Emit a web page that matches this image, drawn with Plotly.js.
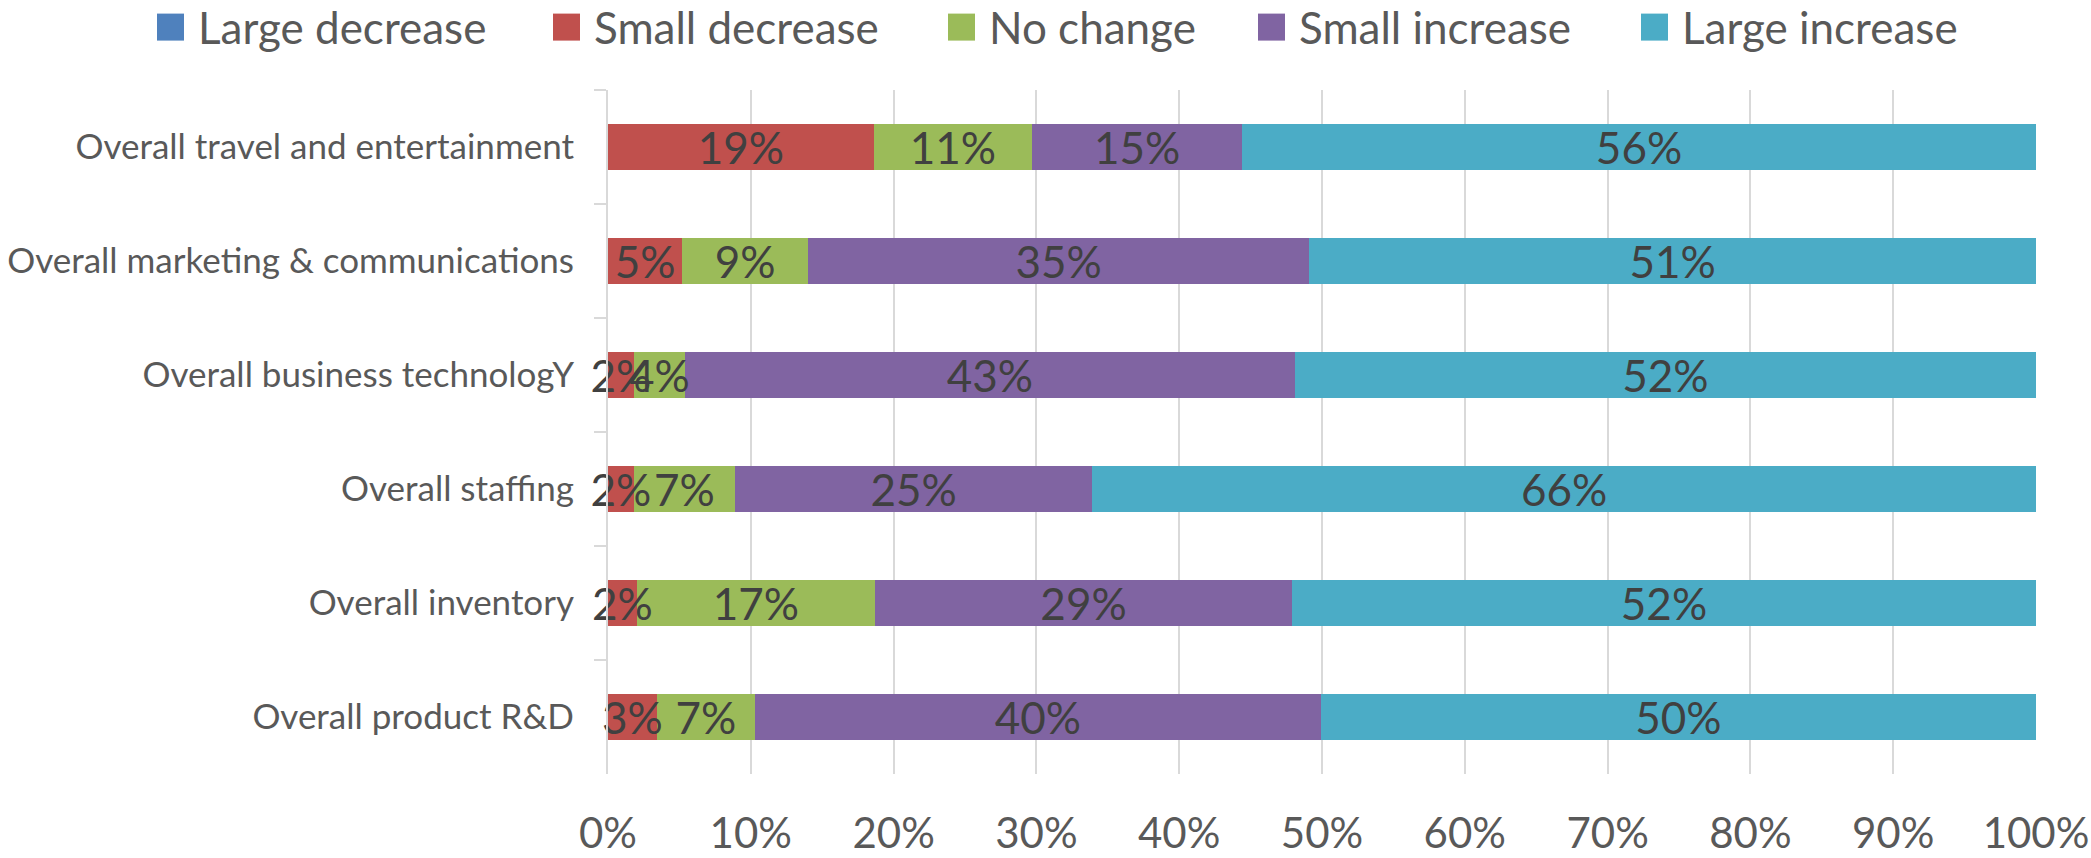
<!DOCTYPE html>
<html>
<head>
<meta charset="utf-8">
<script src="https://cdn.plot.ly/plotly-3.0.1.min.js"></script>
<style>
  html, body { margin: 0; padding: 0; background: #ffffff; }
  #chart { width: 2091px; height: 858px; }
</style>
</head>
<body>
<div id="chart"></div>
<script>
// ---- data (shares of respondents, as fractions) ----
const categories = [
  'Overall travel and entertainment',
  'Overall marketing & communications',
  'Overall business technologY',
  'Overall staffing',
  'Overall inventory',
  'Overall product R&D'
];
const seriesNames = ['Large decrease', 'Small decrease', 'No change', 'Small increase', 'Large increase'];
const largeDecrease = [0, 0, 0, 0, 0, 0];
const smallDecrease = [0.186, 0.052, 0.018, 0.018, 0.020, 0.034];
const noChange      = [0.111, 0.088, 0.036, 0.071, 0.167, 0.069];
const smallIncrease = [0.147, 0.351, 0.427, 0.250, 0.292, 0.396];
const largeIncrease = [0.556, 0.509, 0.519, 0.661, 0.521, 0.501];
const xTickValues = [0, 0.1, 0.2, 0.3, 0.4, 0.5, 0.6, 0.7, 0.8, 0.9, 1.0];

// ---- styles ----
const colors = ['#4F81BD', '#C0504D', '#9BBB59', '#8064A2', '#4BACC6'];
const FONT = 'Lato, "Open Sans", sans-serif';
const W = 2091, H = 858;
const M = { l: 608, r: 55, t: 90, b: 84 };
const plotW = W - M.l - M.r, plotH = H - M.t - M.b;
const px2paperX = px => (px - M.l) / plotW;
const px2paperY = py => (H - M.b - py) / plotH;

const allSeries = [largeDecrease, smallDecrease, noChange, smallIncrease, largeIncrease];
const legendNames = ['legend', 'legend2', 'legend3', 'legend4', 'legend5'];
const legendSquareCenters = [175.5, 571.5, 966.5, 1276.5, 1659.5];

const traces = allSeries.map((vals, i) => ({
  type: 'bar',
  orientation: 'h',
  name: seriesNames[i],
  y: categories,
  x: vals,
  marker: { color: colors[i], line: { width: 0 } },
  text: i === 0 ? null : vals.map(v => Math.round(v * 100) + '%'),
  textposition: i === 0 ? 'none' : 'inside',
  insidetextanchor: 'middle',
  textangle: 0,
  constraintext: 'none',
  cliponaxis: false,
  textfont: { family: FONT, size: 44, color: '#404040' },
  insidetextfont: { family: FONT, size: 44, color: '#404040' },
  legend: legendNames[i],
  hoverinfo: 'skip'
}));

const layout = {
  width: W, height: H,
  margin: { l: M.l, r: M.r, t: M.t, b: M.b, autoexpand: false },
  paper_bgcolor: '#ffffff',
  plot_bgcolor: '#ffffff',
  barmode: 'stack',
  bargap: 0.605,
  showlegend: true,
  xaxis: {
    range: [0, 1],
    tickvals: xTickValues,
    tickformat: '.0%',
    showgrid: true, gridcolor: '#d9d9d9', gridwidth: 2,
    zeroline: false, showline: false, ticks: '',
    ticklabelstandoff: 31,
    tickfont: { family: FONT, size: 42, color: '#595959' },
    automargin: false, fixedrange: true
  },
  yaxis: {
    type: 'category',
    autorange: 'reversed',
    showgrid: false, zeroline: false,
    showline: true, linecolor: '#d9d9d9', linewidth: 2,
    ticks: 'outside', tickson: 'boundaries', ticklen: 12, tickwidth: 2, tickcolor: '#d9d9d9',
    ticklabelstandoff: 25,
    tickfont: { family: FONT, size: 35, color: '#595959' },
    automargin: false, fixedrange: true
  }
};
legendNames.forEach((ln, i) => {
  layout[ln] = {
    orientation: 'h',
    x: px2paperX(legendSquareCenters[i] - 32.5),
    xanchor: 'left',
    y: px2paperY(27.5),
    yanchor: 'middle',
    itemwidth: 45,
    bgcolor: 'rgba(0,0,0,0)',
    borderwidth: 0,
    font: { family: FONT, size: 44, color: '#595959' }
  };
});

Plotly.newPlot('chart', traces, layout, { staticPlot: true, displayModeBar: false }).then(gd => {
  // bigger square legend keys
  document.querySelectorAll('.legendpoints path').forEach(p => {
    p.setAttribute('d', 'M13.5,13.5H-13.5V-13.5H13.5Z');
    p.style.strokeWidth = '0px';
  });
  // draw every data label above all bar segments (as the reference does)
  const barlayer = document.querySelector('#chart .barlayer');
  if (barlayer) {
    const top = document.createElementNS('http://www.w3.org/2000/svg', 'g');
    top.setAttribute('class', 'bartext-top');
    barlayer.querySelectorAll('text.bartext').forEach(t => top.appendChild(t));
    barlayer.appendChild(top);
  }
});
</script>
</body>
</html>
